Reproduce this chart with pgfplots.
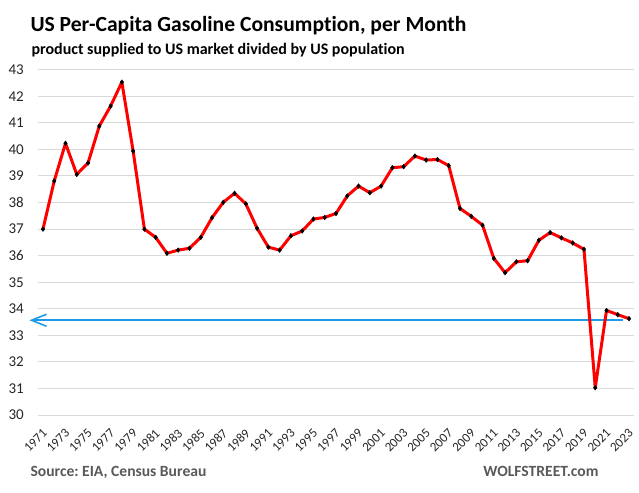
\documentclass[border=0pt]{standalone}
\usepackage{fontspec}
\setmainfont{Carlito}[Ligatures={NoCommon}]
\usepackage{pgfplots}
\pgfplotsset{compat=1.18}
\usetikzlibrary{arrows.meta}
\definecolor{gridgray}{HTML}{D9D9D9}
\definecolor{ticktext}{HTML}{262626}
\definecolor{srcgray}{HTML}{595959}
\definecolor{arrowblue}{HTML}{1E9BE8}
\frenchspacing
\begin{document}
\begin{tikzpicture}
\path[use as bounding box] (0,0) rectangle (639pt,-492pt);
\node[anchor=base west, font=\bfseries\fontsize{21.6}{25}\selectfont] at (27pt,-32pt) {US Per-Capita Gasoline Consumption, per Month};
\node[anchor=base west, font=\bfseries\fontsize{16}{19}\selectfont] at (28pt,-55pt) {product supplied to US market divided by US population};
\node[anchor=base west, font=\bfseries\fontsize{15.6}{18}\selectfont, text=srcgray] at (27pt,-476pt) {Source: EIA, Census Bureau};
\node[anchor=base east, font=\bfseries\fontsize{15.6}{18}\selectfont, text=srcgray] at (602pt,-476pt) {WOLFSTREET.com};
\begin{axis}[
  at={(38pt,-415.1pt)}, anchor=south west,
  scale only axis, width=596pt, height=345.4pt,
  xmin=1970.56, xmax=2023.44,
  ymin=30, ymax=43,
  ytick={30,31,...,43},
  xtick={1971,1973,...,2023},
  xticklabel={\pgfmathprintnumber[1000 sep={}]{\tick}},
  ymajorgrids,
  grid style={gridgray, line width=1pt},
  axis line style={draw=none},
  major tick length=0pt,
  clip=false,
  /pgf/number format/assume math mode=true,
  yticklabel style={font=\fontsize{15}{17}\selectfont, text=ticktext, anchor=east, inner sep=0pt, xshift=-14pt},
  xticklabel style={font=\fontsize{13}{15}\selectfont, text=ticktext, yshift=-16pt, xshift=2pt, rotate=45, anchor=east, inner sep=0pt},
]
\addplot[arrowblue, line width=1.6pt, {Straight Barb[length=15pt, width=12pt]}-] coordinates {(1969.8,33.57) (2022.46,33.57)};
\addplot[red, line width=3pt, line join=round, mark=diamond*, mark size=2.4pt, mark options={fill=black, draw=black, line width=0.4pt}] coordinates {
(1971,37.00) (1972,38.81) (1973,40.23) (1974,39.06) (1975,39.49) (1976,40.88) (1977,41.63) (1978,42.53) (1979,39.94) (1980,37.00)
(1981,36.69) (1982,36.09) (1983,36.21) (1984,36.28) (1985,36.69) (1986,37.43) (1987,38.01) (1988,38.35) (1989,37.95) (1990,37.03)
(1991,36.32) (1992,36.21) (1993,36.75) (1994,36.93) (1995,37.38) (1996,37.44) (1997,37.59) (1998,38.25) (1999,38.62) (2000,38.37)
(2001,38.62) (2002,39.31) (2003,39.35) (2004,39.75) (2005,39.60) (2006,39.62) (2007,39.39) (2008,37.78) (2009,37.48) (2010,37.15)
(2011,35.90) (2012,35.36) (2013,35.77) (2014,35.81) (2015,36.58) (2016,36.87) (2017,36.67) (2018,36.48) (2019,36.24) (2020,31.03)
(2021,33.94) (2022,33.78) (2023,33.63)
};
\end{axis}
\end{tikzpicture}
\end{document}
